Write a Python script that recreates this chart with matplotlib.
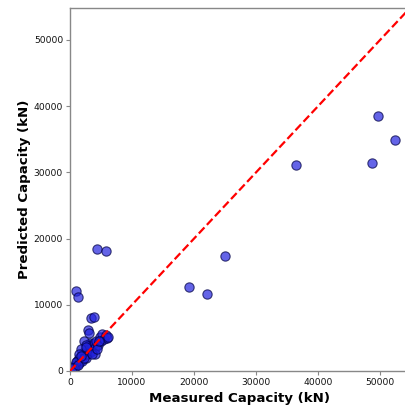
import matplotlib
matplotlib.use("Agg")
import matplotlib.pyplot as plt

# measured vs predicted capacity (kN)
measured = [500, 800, 1000, 1200, 1500, 1500, 1800, 2000, 2000, 2200, 2500, 2500,
            2700, 2800, 3000, 3000, 3200, 3300, 3500, 3500, 3800, 4000, 4000, 4200,
            4500, 4800, 5000, 5200, 5500, 5800, 6000, 6200, 2200, 2500, 2900, 3100,
            3400, 3900, 1800, 1500, 1000, 600, 300, 1300, 2300, 3600, 4300, 4600,
            2600, 1700,
            970, 1290, 4350, 5800, 19200, 22100, 25000, 36400, 48700, 49700, 52400]
predicted = [600, 900, 700, 1500, 1200, 2000, 1700, 2500, 1500, 2800, 2000, 3000,
             3500, 2500, 3200, 4000, 2800, 4300, 3000, 3800, 4200, 3500, 2600, 4500,
             4000, 5200, 4500, 5600, 4800, 5400, 5000, 5200, 4500, 4000, 6200, 5800,
             8000, 8150, 3300, 2600, 1300, 400, 500, 900, 2000, 2500, 3300, 4600,
             3600, 2300,
             12100, 11200, 18400, 18100, 12700, 11600, 17400, 31100, 31400, 38500, 34900]

lim = 54800

fig = plt.figure(figsize=(4.06, 4.05), dpi=100)
ax = fig.add_axes([70 / 406, 34 / 405, 340 / 406, 363 / 405])

ax.scatter(measured, predicted, s=45, c="#2222dd", alpha=0.7,
           edgecolors="#000044", linewidths=0.8, zorder=2)
ax.plot([0, lim], [0, lim], "r--", lw=1.6, zorder=3)

ax.set_xlim(0, lim)
ax.set_ylim(0, lim)
ax.set_xticks([0, 10000, 20000, 30000, 40000, 50000])
ax.set_yticks([0, 10000, 20000, 30000, 40000, 50000])
ax.tick_params(labelsize=6.6, colors="#888888", labelcolor="#111111",
               length=3, width=0.8, pad=2)
for sp in ax.spines.values():
    sp.set_color("#888888")
    sp.set_linewidth(1.0)

ax.set_xlabel("Measured Capacity (kN)", fontsize=9.6, fontweight="bold", labelpad=3.5)
ax.set_ylabel("Predicted Capacity (kN)", fontsize=9.6, fontweight="bold", labelpad=2)

fig.savefig("out.png", dpi=100)
